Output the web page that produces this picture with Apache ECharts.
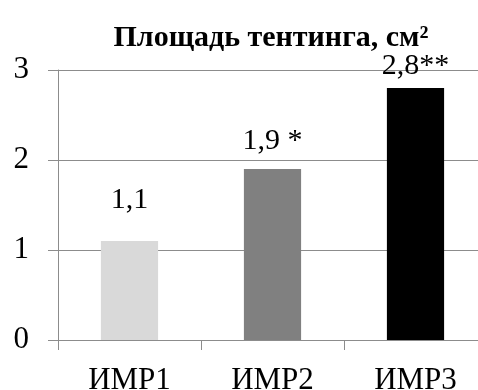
<!DOCTYPE html>
<html><head><meta charset="utf-8">
<script src="https://cdn.jsdelivr.net/npm/echarts@6/dist/echarts.min.js"></script>
<style>html,body{margin:0;padding:0;background:#fff}#c{width:478px;height:390px}</style>
</head><body><div id="c"></div>
<script>
const categories = ['ИМР1', 'ИМР2', 'ИМР3'];
const values = [1.1, 1.9, 2.8];
const labels = ['1,1', '1,9 *', '2,8**'];
const colors = ['#d9d9d9', '#808080', '#000000'];
const labelGaps = [26, 13, 7];
const yTicks = [0, 1, 2, 3];
const F = '"Liberation Serif", "Times New Roman", serif';
const chart = echarts.init(document.getElementById('c'));
chart.setOption({
  animation: false,
  title: {
    text: 'Площадь тентинга, см²',
    left: 266, top: 18, textAlign: 'center',
    textStyle: { fontFamily: F, fontWeight: 'bold', fontSize: 30, color: '#000' }
  },
  grid: { left: 58, width: 429, top: 70, bottom: 50, containLabel: false, outerBoundsMode: 'none' },
  xAxis: {
    type: 'category', data: categories,
    axisLine: { lineStyle: { color: '#8c8c8c', width: 1 } },
    axisTick: { show: true, length: 10, lineStyle: { color: '#8c8c8c' } },
    axisLabel: { fontFamily: F, fontSize: 31, color: '#000', margin: 25 }
  },
  yAxis: {
    type: 'value', min: yTicks[0], max: yTicks[yTicks.length - 1], interval: 1,
    axisLine: { show: true, lineStyle: { color: '#8c8c8c', width: 1 } },
    axisTick: { show: true, length: 10, lineStyle: { color: '#8c8c8c' } },
    splitLine: { show: true, lineStyle: { color: '#8c8c8c', width: 1 } },
    axisLabel: { fontFamily: F, fontSize: 31, color: '#000', margin: 29 }
  },
  series: [{
    type: 'bar', barWidth: '40%',
    data: values.map((v, i) => ({
      value: v,
      itemStyle: { color: colors[i] },
      label: { show: true, position: 'top', distance: labelGaps[i], formatter: labels[i],
        fontFamily: F, fontSize: 30, color: '#000' }
    }))
  }]
});
</script></body></html>
